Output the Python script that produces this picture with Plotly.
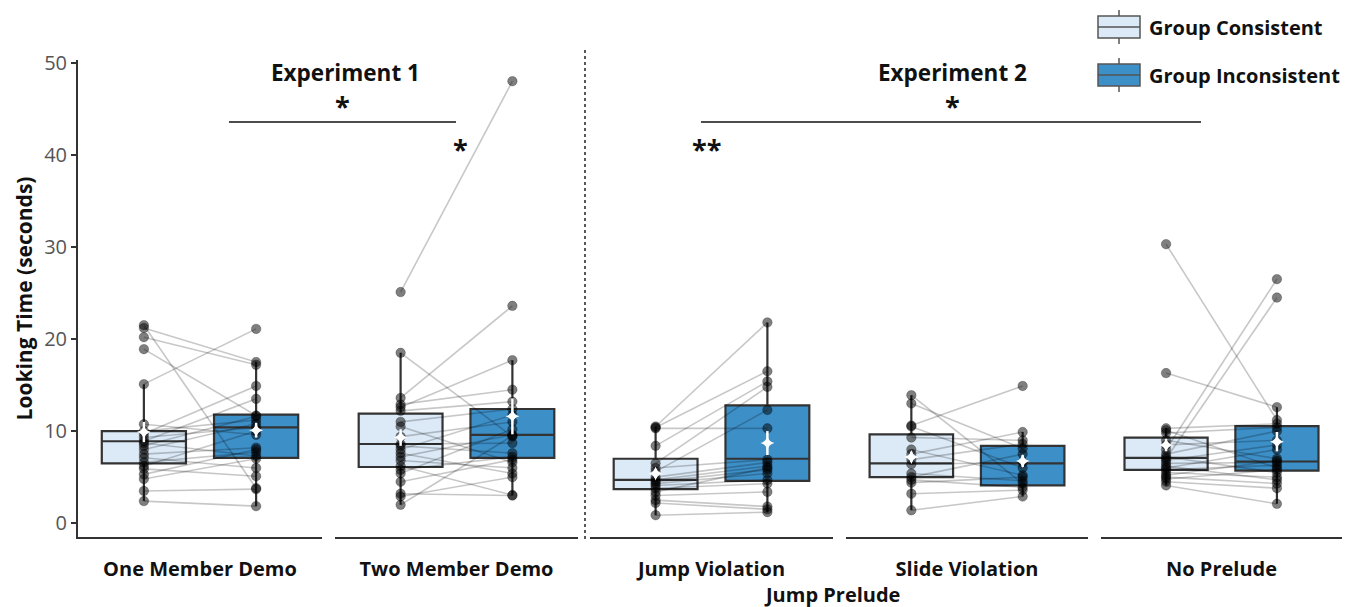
import plotly.graph_objects as go

# ---------------- data ----------------
facets = ["One Member Demo", "Two Member Demo", "Jump Violation", "Slide Violation", "No Prelude"]
groups = ["Group Consistent", "Group Inconsistent"]

# paired looking times (same index = same participant)
one_cons = [21.5, 21.2, 20.2, 18.9, 15.1, 10.75, 10.0, 9.7, 9.3, 8.9, 8.7, 8.4, 8.0, 7.5, 7.1, 6.6, 6.2, 5.9, 5.3, 4.8, 3.5, 2.4]
one_inc  = [3.8, 17.5, 17.2, 11.7, 21.1, 9.6, 11.2, 14.9, 10.4, 13.5, 7.3, 11.6, 10.8, 8.2, 6.0, 7.7, 10.0, 5.1, 8.0, 7.0, 3.7, 1.85]

two_cons = [25.1, 18.5, 13.6, 12.9, 12.6, 12.2, 11.0, 10.5, 9.4, 8.6, 8.4, 8.0, 7.6, 7.2, 6.8, 6.2, 5.8, 5.4, 4.5, 3.2, 2.9, 2.0]
two_inc  = [48.0, 9.4, 23.6, 14.5, 17.7, 13.2, 12.4, 6.6, 11.0, 8.7, 7.6, 11.75, 5.4, 9.6, 6.0, 3.05, 7.2, 10.2, 6.9, 3.0, 5.0, 9.5]

jump_cons = [10.5, 10.3, 10.4, 8.4, 6.5, 6.0, 5.6, 5.0, 4.7, 4.5, 4.3, 4.1, 3.8, 3.4, 3.0, 2.5, 2.2, 0.87]
jump_inc  = [21.8, 10.3, 16.5, 15.4, 14.8, 6.9, 12.3, 6.6, 6.2, 5.8, 5.4, 4.7, 4.3, 6.0, 3.4, 1.8, 1.5, 1.2]

slide_cons = [13.9, 13.0, 10.6, 10.5, 9.3, 8.0, 7.5, 6.9, 6.4, 5.4, 5.0, 4.7, 4.4, 3.2, 1.4]
slide_inc  = [4.3, 8.1, 14.9, 6.0, 9.0, 5.2, 9.9, 8.6, 6.6, 4.6, 7.5, 3.9, 5.0, 3.6, 2.9]

none_cons = [30.3, 16.3, 10.3, 10.1, 9.8, 9.0, 8.5, 8.0, 7.5, 7.2, 7.0, 6.8, 6.5, 6.2, 6.0, 5.8, 5.5, 5.2, 5.0, 4.8, 4.5, 4.1]
none_inc  = [11.2, 12.6, 10.8, 6.0, 10.4, 7.0, 9.0, 26.5, 10.0, 5.5, 24.5, 8.5, 6.6, 4.7, 8.0, 6.3, 5.0, 6.8, 4.3, 5.8, 3.8, 2.1]

cons_values = [one_cons, two_cons, jump_cons, slide_cons, none_cons]
inc_values = [one_inc, two_inc, jump_inc, slide_inc, none_inc]

# box statistics: [q1, median, q3, lower whisker, upper whisker]
cons_box = [[6.5, 8.9, 10.0, 2.4, 15.1],
            [6.1, 8.6, 11.9, 2.0, 18.5],
            [3.7, 4.7, 7.0, 0.87, 10.5],
            [5.0, 6.5, 9.65, 1.4, 13.9],
            [5.8, 7.1, 9.3, 4.1, 10.3]]
inc_box = [[7.1, 10.4, 11.8, 1.85, 17.5],
           [7.1, 9.6, 12.4, 3.0, 17.7],
           [4.6, 7.0, 12.8, 1.2, 21.8],
           [4.1, 6.5, 8.4, 2.9, 9.9],
           [5.7, 6.7, 10.55, 2.1, 12.6]]

# means and standard errors
cons_mean = [9.9, 9.3, 5.4, 7.2, 8.5]
cons_se = [1.1, 0.9, 0.5, 0.55, 0.65]
inc_mean = [10.1, 11.6, 8.7, 6.75, 8.85]
inc_se = [0.8, 1.95, 1.3, 0.65, 1.05]

# ---------------- style ----------------
FONT = "Open Sans"
C_FILL = ["#dceaf7", "#3d8fc8"]
POS = [0.27, 0.73]
BOXW = 0.345

W, H = 1349, 607
ML, MR, MT, MB = 78, 7, 60, 70
PW, PH = W - ML - MR, H - MT - MB


def px(x):
    return (x - ML) / PW


def py(y):
    return (H - MB - y) / PH


fig = go.Figure()

seg_starts = [78, 335, 590, 846, 1101]
seg_ends = [322, 578, 833, 1088, 1342]

for k in range(5):
    xa = "x" if k == 0 else f"x{k+1}"
    c, i = cons_values[k], inc_values[k]
    for g, stats, col in [(0, cons_box[k], C_FILL[0]), (1, inc_box[k], C_FILL[1])]:
        fig.add_trace(go.Box(
            x=[POS[g]], q1=[stats[0]], median=[stats[1]], q3=[stats[2]],
            lowerfence=[stats[3]], upperfence=[stats[4]],
            width=BOXW, fillcolor=col, whiskerwidth=0,
            line=dict(color="#333333", width=2.2), boxpoints=False,
            name=groups[g], showlegend=False, xaxis=xa, yaxis="y", hoverinfo="skip"))
    lx, ly = [], []
    for a, b in zip(c, i):
        lx += [POS[0], POS[1], None]
        ly += [a, b, None]
    fig.add_trace(go.Scatter(x=lx, y=ly, mode="lines", line=dict(color="rgba(0,0,0,0.22)", width=1.6),
                             showlegend=False, xaxis=xa, yaxis="y", hoverinfo="skip"))
    fig.add_trace(go.Scatter(x=[POS[0]] * len(c) + [POS[1]] * len(i), y=c + i, mode="markers",
                             marker=dict(color="rgba(0,0,0,0.5)", size=9.5,
                                         line=dict(color="rgba(0,0,0,0.25)", width=1)),
                             showlegend=False, xaxis=xa, yaxis="y", hoverinfo="skip"))
    fig.add_trace(go.Scatter(x=POS, y=[cons_mean[k], inc_mean[k]], mode="markers",
                             marker=dict(color="white", size=10, symbol="star-diamond"),
                             error_y=dict(type="data", array=[cons_se[k], inc_se[k]], color="white",
                                          thickness=2.5, width=0),
                             showlegend=False, xaxis=xa, yaxis="y", hoverinfo="skip"))

layout = dict(
    width=W, height=H, plot_bgcolor="white", paper_bgcolor="white",
    margin=dict(l=ML, r=MR, t=MT, b=MB, autoexpand=False), showlegend=False, boxmode="overlay",
    font=dict(family=FONT, color="#111111"),
    yaxis=dict(range=[-1.5, 50.3], tickvals=[0, 10, 20, 30, 40, 50], showgrid=False, zeroline=False,
               showline=True, linecolor="#333333", linewidth=2, ticks="outside", ticklen=5,
               tickcolor="#333333", tickwidth=1.5, automargin=False,
               tickfont=dict(family=FONT, size=20, color="#555555"),
               title=dict(text="Looking Time (seconds)", font=dict(family=FONT, size=21, weight="bold", color="#111111"),
                          standoff=6),
               anchor="x"),
)
for k in range(5):
    key = "xaxis" if k == 0 else f"xaxis{k+1}"
    layout[key] = dict(domain=[px(seg_starts[k]), px(seg_ends[k])], range=[0, 1], showgrid=False, zeroline=False,
                       showline=True, linecolor="#333333", linewidth=2, tickvals=[0.5], ticktext=[facets[k]],
                       ticks="outside", ticklen=13, tickcolor="rgba(0,0,0,0)", automargin=False,
                       tickfont=dict(family=FONT, size=20, weight="bold", color="#111111"),
                       anchor="y", fixedrange=True)
fig.update_layout(**layout)

shapes = []
ann = []
shapes.append(dict(type="line", xref="paper", yref="paper", x0=px(585), x1=px(585), y0=py(50), y1=py(540),
                   line=dict(color="#222222", width=1.5, dash="dot")))
shapes.append(dict(type="line", xref="paper", yref="paper", x0=px(229), x1=px(456), y0=py(122), y1=py(122),
                   line=dict(color="#111111", width=1.3)))
shapes.append(dict(type="line", xref="paper", yref="paper", x0=px(701), x1=px(1201), y0=py(122), y1=py(122),
                   line=dict(color="#111111", width=1.3)))
for txt, x, y, size in [("Experiment 1", 345, 72, 22.5), ("Experiment 2", 952, 72, 22.5),
                        ("*", 342, 105, 27), ("*", 460, 148, 27), ("*", 952, 105, 27), ("**", 706, 148, 27)]:
    ann.append(dict(text=txt, x=px(x), y=py(y), xref="paper", yref="paper", showarrow=False,
                    font=dict(family=FONT, size=size, weight="bold", color="#111111"),
                    xanchor="center", yanchor="middle"))
ann.append(dict(text="Jump Prelude", x=px(832), y=py(594), xref="paper", yref="paper", showarrow=False,
                font=dict(family=FONT, size=20, weight="bold", color="#111111"), xanchor="center", yanchor="middle"))
for g, cy in [(0, 27), (1, 75)]:
    shapes.append(dict(type="line", xref="paper", yref="paper", x0=px(1119), x1=px(1119), y0=py(cy - 17), y1=py(cy + 17),
                       line=dict(color="#555555", width=1.5)))
    shapes.append(dict(type="rect", xref="paper", yref="paper", x0=px(1098), x1=px(1140), y0=py(cy - 11), y1=py(cy + 11),
                       fillcolor=C_FILL[g], line=dict(color="#555555", width=1.5)))
    shapes.append(dict(type="line", xref="paper", yref="paper", x0=px(1098), x1=px(1140), y0=py(cy), y1=py(cy),
                       line=dict(color="#555555", width=1.5)))
    ann.append(dict(text=groups[g], x=px(1147), y=py(cy), xref="paper", yref="paper", showarrow=False,
                    font=dict(family=FONT, size=20, weight="bold", color="#111111"), xanchor="left", yanchor="middle"))
fig.update_layout(shapes=shapes, annotations=ann)

fig.write_html("out.html", config={"displayModeBar": False},
               post_script="document.body.style.margin='0';document.body.style.padding='0';")
